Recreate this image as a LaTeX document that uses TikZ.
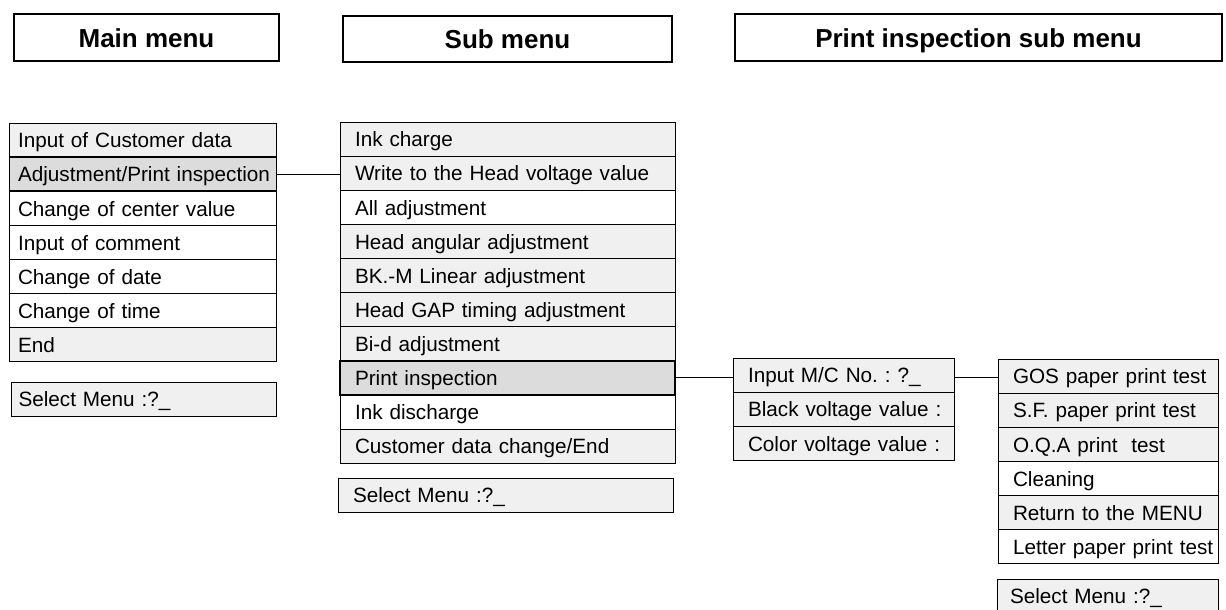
\documentclass[tikz,border=0pt]{standalone}
\usepackage{fontspec}
\setmainfont{Liberation Sans}
\frenchspacing
\definecolor{grisclair}{HTML}{F0F0F0}
\definecolor{grisfonce}{HTML}{DCDCDC}
\tikzset{
  rang/.style={draw, line width=0.8pt, anchor=north west, outer sep=0pt, inner ysep=0pt,
    minimum height=34.1pt, text height=17.5pt, text depth=2pt, align=left,
    execute at begin node={\hbox to 0pt\bgroup}, execute at end node={\hss\egroup}},
  clair/.style={rang, fill=grisclair},
  blanc/.style={rang, fill=white},
  choisi/.style={rang, fill=grisfonce, line width=1.6pt},
  titre/.style={draw, line width=1.5pt, outer sep=0pt, text height=19.5pt, text depth=0pt,
    font=\fontsize{26}{30}\selectfont\bfseries},
  lien/.style={line width=1.2pt}
}
\begin{document}
\begin{tikzpicture}[x=1pt, y=-1pt, every node/.style={font=\fontsize{20.7}{24}\selectfont}]
\useasboundingbox (0,0) rectangle (1226,610);
% Titres
\node[titre, minimum width=265pt, minimum height=47pt] (tmain) at (146.5,37.5) {Main menu};
\node[titre, minimum width=329pt, minimum height=46pt] (tsub) at (507.5,39) {Sub menu};
\node[titre, minimum width=487pt, minimum height=47pt] (tprint) at (978.5,37.5) {Print inspection sub menu};

% Menu principal
\begin{scope}[every node/.append style={inner xsep=8.5pt, text width=250pt}]
\node[clair] (m1) at (9.5,123) {Input of Customer data};
\node[choisi] (m2) at (m1.south west) {Adjustment/Print inspection};
\node[blanc] (m3) at (m2.south west) {Change of center value};
\node[blanc] (m4) at (m3.south west) {Input of comment};
\node[blanc] (m5) at (m4.south west) {Change of date};
\node[blanc] (m6) at (m5.south west) {Change of time};
\node[clair] (m7) at (m6.south west) {End};
\node[clair, inner xsep=7.5pt] (mchoix) at (11,382) {Select Menu :?\_};
\end{scope}

% Sous-menu
\begin{scope}[every node/.append style={inner xsep=15pt, text width=305pt}]
\node[clair] (s1) at (340,122) {Ink charge};
\node[clair] (s2) at (s1.south west) {Write to the Head voltage value};
\node[blanc] (s3) at (s2.south west) {All adjustment};
\node[clair] (s4) at (s3.south west) {Head angular adjustment};
\node[clair] (s5) at (s4.south west) {BK.-M Linear adjustment};
\node[clair] (s6) at (s5.south west) {Head GAP timing adjustment};
\node[clair] (s7) at (s6.south west) {Bi-d adjustment};
\node[choisi] (s8) at (s7.south west) {Print inspection};
\node[blanc] (s9) at (s8.south west) {Ink discharge};
\node[clair] (s10) at (s9.south west) {Customer data change/End};
\node[clair] (schoix) at (338,478) {Select Menu :?\_};
\end{scope}

% Saisie des valeurs
\begin{scope}[every node/.append style={inner xsep=15pt, text width=191pt}]
\node[clair] (i1) at (733,358) {Input M/C No. : ?\_};
\node[clair] (i2) at (i1.south west) {Black voltage value :};
\node[clair] (i3) at (i2.south west) {Color voltage value :};
\end{scope}

% Sous-menu d'inspection
\begin{scope}[every node/.append style={inner xsep=15pt, text width=190pt}]
\node[clair] (p1) at (998,359) {GOS paper print test};
\node[clair] (p2) at (p1.south west) {S.F. paper print test};
\node[clair] (p3) at (p2.south west) {O.Q.A print\ \ test};
\node[blanc] (p4) at (p3.south west) {Cleaning};
\node[clair] (p5) at (p4.south west) {Return to the MENU};
\node[blanc] (p6) at (p5.south west) {Letter paper print test};
\node[clair, inner xsep=13pt, text width=195pt] (pchoix) at (997,579) {Select Menu :?\_};
\end{scope}

% Bordures des lignes choisies
\draw[line width=1.6pt] (m2.north west) rectangle (m2.south east);
\draw[line width=1.6pt] (s8.north west) rectangle (s8.south east);

% Liaisons
\draw[lien] (m2.east) -- (m2.east -| s2.west);
\draw[lien] (s8.east) -- (s8.east -| i1.west);
\draw[lien] (i1.east |- s8.east) -- (p1.west |- s8.east);
\end{tikzpicture}
\end{document}
